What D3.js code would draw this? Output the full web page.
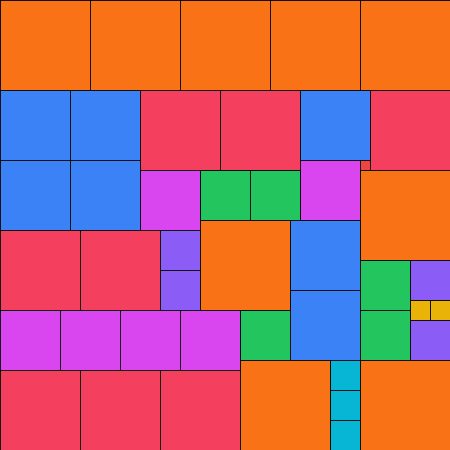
<!DOCTYPE html>
<html><head><meta charset="utf-8">
<script src="https://cdn.jsdelivr.net/npm/d3@7/dist/d3.min.js"></script>
<style>html,body{margin:0;padding:0;background:#fff;}svg{display:block;}</style>
</head><body>
<script>
// Partridge packing (n = 9): sizes 1..9, k squares of size k, in a 45x45 grid.
const sizes   = [9,9,9,9,9,9,9,9,9, 8,8,8,8,8,8,8,8, 7,7,7,7,7,7,7, 6,6,6,6,6,6, 5,5,5,5,5, 4,4,4,4, 3,3,3, 2,2, 1];
const gridCol = [0,9,18,27,36,36,20,24,36, 14,22,37,0,8,0,8,16, 0,7,0,7,30,29,29, 14,30,0,6,12,18, 20,25,36,36,24, 16,16,41,41, 33,33,33, 41,43, 36];
const gridRow = [0,0,0,0,0,17,22,36,36, 9,9,9,23,23,37,37,37, 9,9,16,16,9,22,29, 17,16,31,31,31,31, 17,17,26,31,31, 23,27,26,32, 36,39,42, 30,30, 16];
const colors  = {9:"#f97316",8:"#f43f5e",7:"#3b82f6",6:"#d946ef",5:"#22c55e",4:"#8b5cf6",3:"#06b6d4",2:"#eab308",1:"#ef4444"};

const W = 450, H = 450, N = 45;
const x = d3.scaleLinear().domain([0, N]).range([0, W]);
const y = d3.scaleLinear().domain([0, N]).range([0, H]);

const data = sizes.map((s, i) => ({size: s, col: gridCol[i], row: gridRow[i]}));

const svg = d3.select("body").append("svg").attr("width", W).attr("height", H);
svg.selectAll("rect").data(data).join("rect")
  .attr("x", d => x(d.col))
  .attr("y", d => y(d.row))
  .attr("width", d => x(d.col + d.size) - x(d.col))
  .attr("height", d => y(d.row + d.size) - y(d.row))
  .attr("fill", d => colors[d.size])
  .attr("stroke", "#111")
  .attr("stroke-width", 1)
  .attr("shape-rendering", "crispEdges");
</script>
</body></html>
